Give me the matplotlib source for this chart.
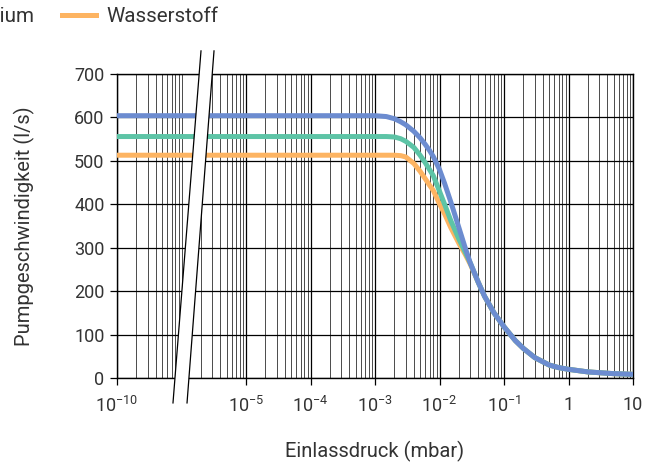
import numpy as np
import matplotlib.pyplot as plt
from matplotlib.lines import Line2D
from matplotlib.patches import Polygon
from matplotlib.ticker import FixedLocator, FixedFormatter

plt.rcParams['font.family'] = ['Roboto', 'DejaVu Sans']
plt.rcParams['mathtext.fontset'] = 'custom'
plt.rcParams['mathtext.rm'] = 'Roboto'

# Inlet pressure (mbar) and pumping speed (l/s) per gas
pressure = [1e-10, 1e-5, 1e-4, 1e-3, 1.5e-3, 2e-3, 2.5e-3, 3e-3, 4e-3, 5e-3,
            6e-3, 7e-3, 8e-3, 1e-2, 1.2e-2, 1.5e-2, 2e-2, 2.5e-2, 3e-2, 4e-2,
            5e-2, 7e-2, 0.1, 0.15, 0.2, 0.3, 0.5, 0.7, 1, 2, 5, 10]
stickstoff = [604, 604, 604, 604, 602, 597, 590, 583, 568, 553,
              538, 524, 510, 480, 448, 405, 346, 300, 265, 220,
              188, 150, 118, 86, 68, 47, 30, 24, 20, 14, 10, 8.5]
helium = [556, 556, 556, 556, 556, 555, 551, 545, 531, 513,
          496, 480, 466, 430, 400, 362, 320, 290, 265, 220,
          188, 150, 118, 86, 68, 47, 30, 24, 20, 14, 10, 8.5]
wasserstoff = [513, 513, 513, 513, 513, 513, 512, 509, 494, 476,
               459, 444, 432, 401, 378, 346, 310, 285, 262, 220,
               188, 150, 118, 86, 68, 47, 30, 24, 20, 14, 10, 8.5]

gases = ["Stickstoff", "Helium", "Wasserstoff"]
colors = ["#6C8CD0", "#5DC4A6", "#FDB462"]

xticks = [1e-10, 1e-5, 1e-4, 1e-3, 1e-2, 1e-1, 1, 10]
xticklabels = [r"$\mathregular{10^{-10}}$", r"$\mathregular{10^{-5}}$",
               r"$\mathregular{10^{-4}}$", r"$\mathregular{10^{-3}}$",
               r"$\mathregular{10^{-2}}$", r"$\mathregular{10^{-1}}$", "1", "10"]
yticks = [0, 100, 200, 300, 400, 500, 600, 700]

txt = '#333333'


# log axis, with 1e-10 .. 1e-5 squeezed into two decades
def fwd(p):
    lp = np.log10(np.clip(p, 1e-300, None))
    return np.where(lp >= -5, lp, -5 + (lp + 5) * 0.4)


def inv(t):
    t = np.asarray(t, dtype=float)
    with np.errstate(over='ignore'):
        return np.where(t >= -5, 10.0 ** t, 10.0 ** (-5 + (t + 5) / 0.4))


fig = plt.figure(figsize=(6.6, 4.65), dpi=100)
ax = fig.add_axes([117 / 660, 1 - 378 / 465, 516 / 660, 304 / 465])
ax.set_xscale('function', functions=(fwd, inv))

for vals, c in zip([wasserstoff, helium, stickstoff], colors[::-1]):
    ax.plot(pressure, vals, color=c, lw=3.6, solid_capstyle='butt', zorder=3)

ax.set_xlim(1e-10, 10)
ax.set_ylim(0, 700)

# minor grid: regular log decades, including the squeezed part
minor = [m * 10.0 ** k for k in range(-5, 1) for m in range(2, 10)]
squeezed = [d + np.log10(m) for d in (-7, -6) for m in range(1, 10)][1:]
minor += list(inv(squeezed))
ax.xaxis.set_major_locator(FixedLocator(xticks))
ax.xaxis.set_major_formatter(FixedFormatter(xticklabels))
ax.xaxis.set_minor_locator(FixedLocator(minor))
ax.set_yticks(yticks)

ax.grid(which='major', color='black', lw=0.9)
ax.grid(which='minor', axis='x', color='#4a4a4a', lw=0.7)
ax.tick_params(which='minor', length=0)
ax.tick_params(which='major', length=5, width=0.9, labelsize=13,
               labelcolor=txt, pad=4)
ax.tick_params(axis='x', pad=8)
for s in ax.spines.values():
    s.set_linewidth(1.0)

# axis break
brk = Polygon([(0.1085, -0.082), (0.1628, 1.076), (0.188, 1.076), (0.1357, -0.082)],
              closed=True, transform=ax.transAxes, facecolor='white',
              edgecolor='none', clip_on=False, zorder=5)
ax.add_patch(brk)
for xs in [(0.1085, 0.1628), (0.1357, 0.188)]:
    ax.add_line(Line2D(xs, (-0.082, 1.076), transform=ax.transAxes,
                       color='black', lw=0.9, clip_on=False, zorder=6))

ax.set_xlabel("Einlassdruck (mbar)", fontsize=14.5, color=txt, labelpad=18)
ax.set_ylabel("Pumpgeschwindigkeit (l/s)", fontsize=14.5, color=txt, labelpad=28)

handles = [Line2D([], [], color=c, lw=3.6) for c in colors]
fig.legend(handles, gases, loc='center right', bbox_to_anchor=(218 / 660, 1 - 17 / 465),
           ncol=3, frameon=False, borderpad=0, borderaxespad=0, handlelength=1.65,
           handletextpad=0.48, columnspacing=1.36, fontsize=14.9, labelcolor=txt)

fig.savefig("out.png", dpi=100)
